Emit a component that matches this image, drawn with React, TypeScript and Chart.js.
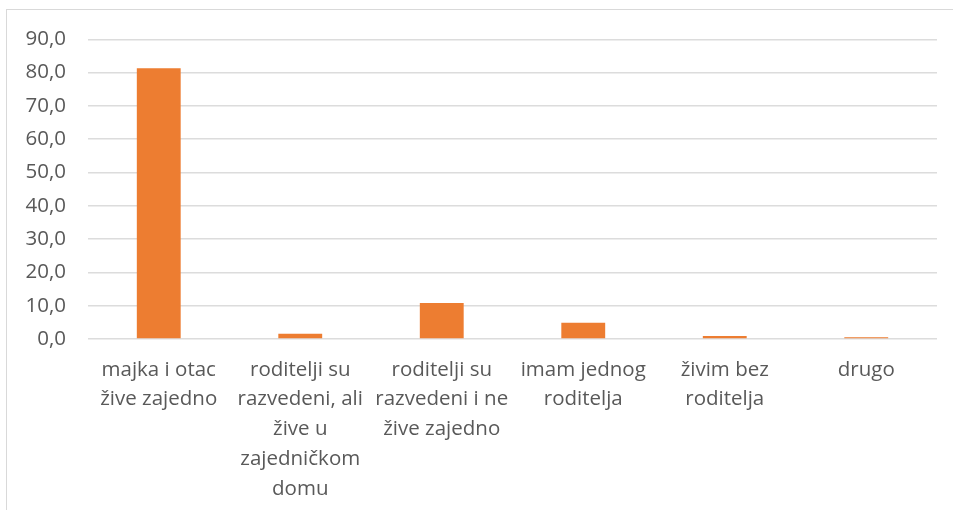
import React, { useEffect, useRef } from "react";
import { Chart, registerables } from "chart.js";

Chart.register(...registerables);

const categories: string[][] = [
  ["majka i otac", "žive zajedno"],
  ["roditelji su", "razvedeni, ali", "žive u", "zajedničkom", "domu"],
  ["roditelji su", "razvedeni i ne", "žive zajedno"],
  ["imam jednog", "roditelja"],
  ["živim bez", "roditelja"],
  ["drugo"],
];
const values: number[] = [81.3, 1.6, 10.8, 4.9, 0.9, 0.5];
const yMin = 0;
const yMax = 90;
const yStep = 10;

export default function App() {
  const ref = useRef<HTMLCanvasElement | null>(null);
  useEffect(() => {
    if (!ref.current) return;
    const chart = new Chart(ref.current, {
      type: "bar",
      data: {
        labels: categories,
        datasets: [
          {
            data: values,
            backgroundColor: "#ED7D31",
            borderWidth: 0,
            categoryPercentage: 1,
            barPercentage: 0.31,
          },
        ],
      },
      options: {
        animation: false,
        responsive: false,
        maintainAspectRatio: false,
        layout: { padding: { top: 11, right: 15, left: 0, bottom: 0 } },
        plugins: { legend: { display: false }, tooltip: { enabled: false } },
        scales: {
          x: {
            grid: { display: false, drawTicks: false },
            border: { display: false },
            ticks: {
              color: "#595959",
              font: { family: "Open Sans", size: 20.5, lineHeight: 1.45 },
              padding: 16,
              maxRotation: 0,
              autoSkip: false,
            },
            afterFit: (s: any) => {
              s.height = 171;
            },
          },
          y: {
            min: yMin,
            max: yMax,
            grid: { color: "#dcdcdc", lineWidth: 1.5, drawTicks: false },
            border: { display: false },
            ticks: {
              stepSize: yStep,
              color: "#595959",
              font: { family: "Open Sans", size: 20.5 },
              padding: 22,
              callback: (v: any) => Number(v).toFixed(1).replace(".", ","),
            },
            afterFit: (s: any) => {
              s.width = 81;
            },
          },
        },
      },
    });
    return () => chart.destroy();
  }, []);
  return (
    <div style={{ position: "fixed", inset: 0, overflow: "hidden", background: "#fff" }}>
      <div
        style={{
          position: "absolute",
          left: 6,
          top: 9,
          width: 960,
          height: 520,
          border: "1px solid #d9d9d9",
          boxSizing: "border-box",
          overflow: "hidden",
        }}
      >
        <canvas
          ref={ref}
          width={945}
          height={505}
          style={{ display: "block", marginTop: -5 }}
        />
      </div>
    </div>
  );
}
